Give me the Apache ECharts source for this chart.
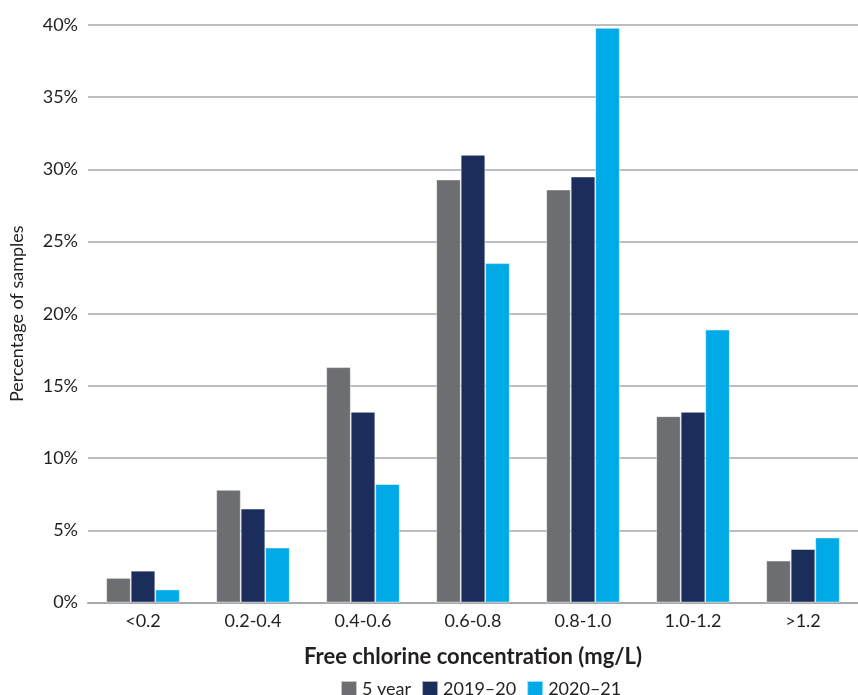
<!DOCTYPE html>
<html>
<head>
<meta charset="utf-8">
<script src="https://cdn.jsdelivr.net/npm/echarts@6/dist/echarts.min.js"></script>
<style>
  html, body { margin: 0; padding: 0; background: #fff; }
  #chart { width: 858px; height: 695px; }
</style>
</head>
<body>
<div id="chart"></div>
<script>
// Free chlorine concentration bands (mg/L)
const categories = ['<0.2', '0.2-0.4', '0.4-0.6', '0.6-0.8', '0.8-1.0', '1.0-1.2', '>1.2'];
// Percentage of samples in each band
const fiveYear = [1.7, 7.8, 16.3, 29.3, 28.6, 12.9, 2.9];
const y2019_20 = [2.2, 6.5, 13.2, 31.0, 29.5, 13.2, 3.7];
const y2020_21 = [0.9, 3.8, 8.2, 23.5, 39.8, 18.9, 4.5];
const yTicks = [0, 5, 10, 15, 20, 25, 30, 35, 40];

const font = 'Lato, "Noto Sans", sans-serif';
const ink = '#231f20';
const chart = echarts.init(document.getElementById('chart'), null, { renderer: 'canvas' });

const barStyle = (color) => ({ color: color, borderColor: 'rgba(255,255,255,0.6)', borderWidth: 0.8 });

chart.setOption({
  animation: false,
  textStyle: { fontFamily: font },
  grid: { left: 87, right: -8, top: 25, bottom: 92.5, containLabel: false },
  legend: {
    top: 680,
    left: 340,
    padding: 0,
    itemWidth: 16,
    itemHeight: 16,
    itemGap: 10,
    icon: 'rect',
    textStyle: { fontSize: 18, color: ink, fontFamily: font, padding: [2, 0, 0, 0] },
    data: ['5 year', '2019–20', '2020–21']
  },
  xAxis: {
    type: 'category',
    data: categories,
    name: 'Free chlorine concentration (mg/L)',
    nameLocation: 'middle',
    nameGap: 43,
    nameTextStyle: { fontSize: 22, fontWeight: 'bold', color: ink, fontFamily: font },
    axisLine: { lineStyle: { color: '#a7a9ac', width: 2 } },
    axisTick: { show: false },
    axisLabel: { fontSize: 18, color: ink, margin: 10 }
  },
  yAxis: {
    type: 'value',
    min: yTicks[0],
    max: yTicks[yTicks.length - 1],
    interval: 5,
    name: 'Percentage of samples',
    nameLocation: 'middle',
    nameGap: 62,
    nameTextStyle: { fontSize: 18, color: ink, fontFamily: font },
    axisLine: { show: false },
    axisTick: { show: false },
    axisLabel: { fontSize: 18, color: ink, margin: 10, formatter: '{value}%' },
    splitLine: { lineStyle: { color: '#a7a9ac', width: 1.5 } }
  },
  series: [
    { name: '5 year', type: 'bar', data: fiveYear, barWidth: 24.5, barGap: '0%', itemStyle: barStyle('#6d6e71') },
    { name: '2019–20', type: 'bar', data: y2019_20, barWidth: 24.5, barGap: '0%', itemStyle: barStyle('#1b2d5a') },
    { name: '2020–21', type: 'bar', data: y2020_21, barWidth: 24.5, barGap: '0%', itemStyle: barStyle('#00aae7') }
  ]
});
</script>
</body>
</html>
